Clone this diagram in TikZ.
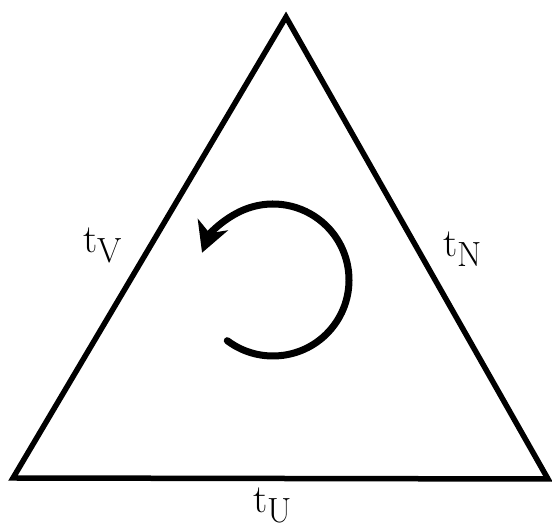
\documentclass[tikz,border=0pt]{standalone}
\usetikzlibrary{arrows.meta}
\begin{document}
\begin{tikzpicture}[x=1pt,y=1pt,
  edge/.style={line width=5.5pt,line join=miter,black},
  turn/.style={line width=7pt,line cap=round,black,-{Stealth[length=30pt,width=32pt,inset=9pt]}},
  lbl/.style={inner sep=0pt,anchor=base west,font=\fontsize{40}{44}\selectfont}]
\useasboundingbox (0,0) rectangle (552,526);
\coordinate (A) at (286,509);
\coordinate (B) at (13,48);
\coordinate (C) at (548,47);
\draw[edge] (A) -- (B) -- (C) -- cycle;
\coordinate (O) at (273,246);
\draw[turn] ([shift={(-127:76)}]O) arc[start angle=-127,end angle=159,radius=76];
\node[lbl] (tv) at (83,273) {t\raisebox{-10pt}{\fontsize{35}{38}\selectfont V}};
\node[lbl] (tn) at (443,269) {t\raisebox{-10pt}{\fontsize{35}{38}\selectfont N}};
\node[lbl] (tu) at (253,13) {t\raisebox{-10pt}[\height][0pt]{\fontsize{35}{38}\selectfont U}};
\end{tikzpicture}
\end{document}
